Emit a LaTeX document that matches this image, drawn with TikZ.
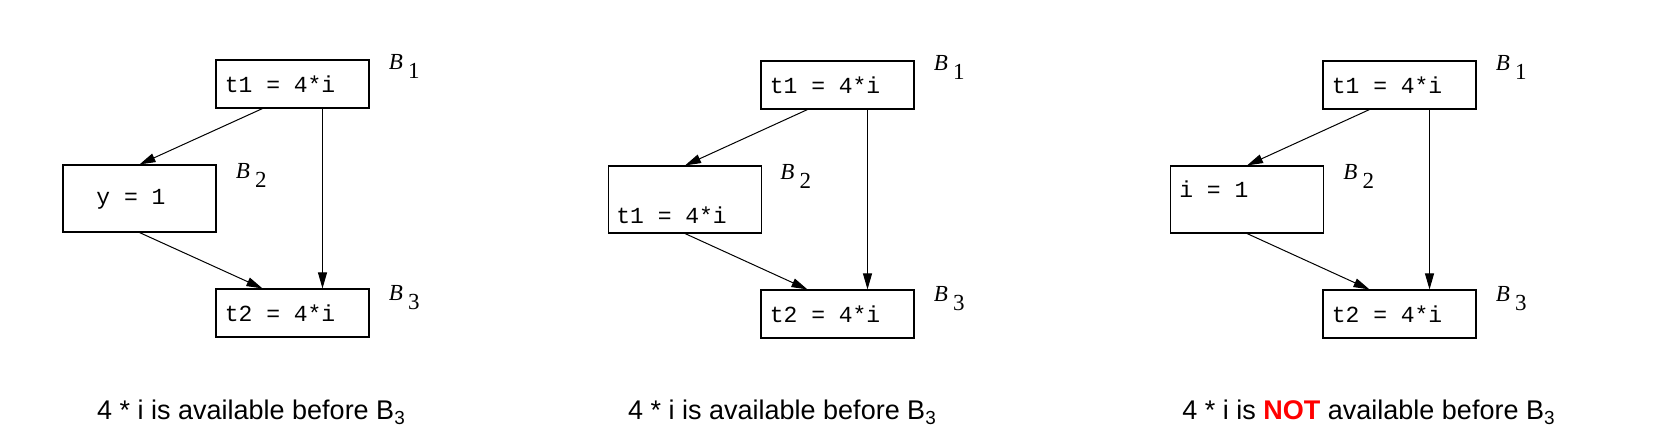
\documentclass[tikz,border=0pt]{standalone}
\usepackage{fontspec}
\setmainfont{Liberation Sans}
\newfontfamily\codefont{Liberation Mono}
\newfontfamily\labfont{Liberation Serif}
\usetikzlibrary{arrows.meta, calc, positioning}
\newcommand{\blab}[1]{\textit{B}\hspace{2.5pt}\raisebox{-4.5pt}{#1}}

\begin{document}
\begin{tikzpicture}[x=0.5pt, y=-0.5pt,
	blk/.style={draw, line width=0.55pt, minimum width=76.5pt, minimum height=24pt, inner sep=0pt},
	tall/.style={blk, minimum height=33.5pt},
	code/.style={font=\codefont\fontsize{11.5}{13}\selectfont, inner sep=0pt, anchor=west},
	lab/.style={font=\labfont\fontsize{11.5}{13}\selectfont, inner sep=0pt, anchor=base west},
	captext/.style={font=\fontsize{13.5}{16}\selectfont, inner sep=0pt, anchor=base},
	edge/.style={-{Triangle[length=8pt,width=4.5pt]}, line width=0.5pt}]
	\useasboundingbox (0,0) rectangle (1657,437);
	% y = 1
	\node[blk](a1)at(292.5,84){};
	\node[tall](a2)at(139.5,198.5){};
	\node[blk](a3)at(292.5,313){};
	\node[code](a1t)at([xshift=4.5pt]a1.west){t1 = 4*i};
	\node[code,anchor=center](a2t)at(131,199){y = 1};
	\node[code](a3t)at([xshift=4.5pt]a3.west){t2 = 4*i};
	\node[lab](a1l)at([xshift=9.5pt,yshift=-5pt]a1.north east){\blab{1}};
	\node[lab](a2l)at([xshift=9.5pt,yshift=-7pt]a2.north east){\blab{2}};
	\node[lab](a3l)at([xshift=9.5pt,yshift=-6pt]a3.north east){\blab{3}};
	\draw[edge]([xshift=-15pt]a1.south)--(a2.north);
	\draw[edge]([xshift=15pt]a1.south)--([xshift=15pt]a3.north);
	\draw[edge](a2.south)--([xshift=-15pt]a3.north);
	% t1 = 4*i in B2
	\node[blk](b1)at(837.5,85){};
	\node[tall](b2)at(685,199.5){};
	\node[blk](b3)at(837.5,314){};
	\node[code](b1t)at([xshift=4.5pt]b1.west){t1 = 4*i};
	\node[code](b2t)at([xshift=4pt,yshift=-8pt]b2.west){t1 = 4*i};
	\node[code](b3t)at([xshift=4.5pt]b3.west){t2 = 4*i};
	\node[lab](b1l)at([xshift=9.5pt,yshift=-5pt]b1.north east){\blab{1}};
	\node[lab](b2l)at([xshift=9pt,yshift=-7pt]b2.north east){\blab{2}};
	\node[lab](b3l)at([xshift=9.5pt,yshift=-6pt]b3.north east){\blab{3}};
	\draw[edge]([xshift=-15pt]b1.south)--(b2.north);
	\draw[edge]([xshift=15pt]b1.south)--([xshift=15pt]b3.north);
	\draw[edge](b2.south)--([xshift=-15pt]b3.north);
	% i = 1
	\node[blk](c1)at(1399.5,85){};
	\node[tall](c2)at(1247,199.5){};
	\node[blk](c3)at(1399.5,314){};
	\node[code](c1t)at([xshift=4.5pt]c1.west){t1 = 4*i};
	\node[code](c2t)at([xshift=4.5pt,yshift=5pt]c2.west){i = 1};
	\node[code](c3t)at([xshift=4.5pt]c3.west){t2 = 4*i};
	\node[lab](c1l)at([xshift=9.5pt,yshift=-5pt]c1.north east){\blab{1}};
	\node[lab](c2l)at([xshift=9.5pt,yshift=-7pt]c2.north east){\blab{2}};
	\node[lab](c3l)at([xshift=9.5pt,yshift=-6pt]c3.north east){\blab{3}};
	\draw[edge]([xshift=-15pt]c1.south)--(c2.north);
	\draw[edge]([xshift=15pt]c1.south)--([xshift=15pt]c3.north);
	\draw[edge](c2.south)--([xshift=-15pt]c3.north);
	% captions
	\node[captext](acap)at(251.5,420){4 * i is available before B\textsubscript{3}};
	\node[captext](bcap)at(782.5,420){4 * i is available before B\textsubscript{3}};
	\node[captext](ccap)at(1369,420){4 * i is \textcolor{red}{\textbf{NOT}} available before B\textsubscript{3}};
\end{tikzpicture}
\end{document}
